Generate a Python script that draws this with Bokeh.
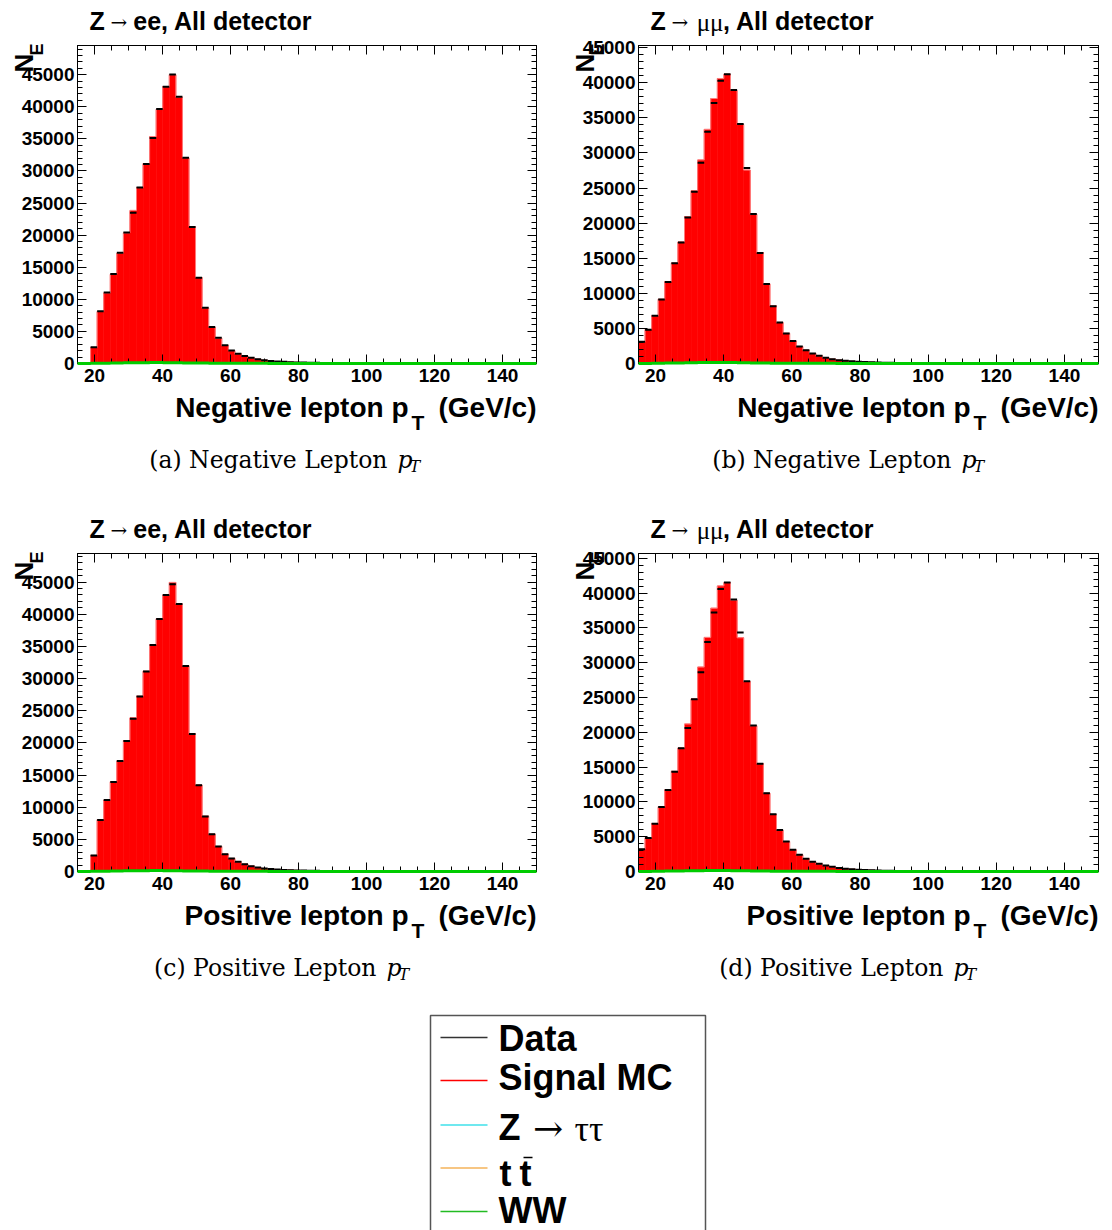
import math
from bokeh.plotting import figure
from bokeh.models import Range1d, LinearAxis, SingleIntervalTicker, CustomJSTickFormatter, BasicTickFormatter
from bokeh.layouts import column, row
from bokeh.embed import file_html
from bokeh.resources import INLINE
from bokeh.core.properties import value

# ---------------- data ----------------
X_MIN, X_MAX, N_BINS = 15.0, 150.0, 70

ee_neg_data = [0, 0, 2550, 8150, 11050, 13950, 17250, 20400, 23480, 27420, 31100, 35150, 39650, 43130,
               45050, 41580, 32040, 21250, 13350, 8700, 5700, 4000, 2830, 2040, 1530, 1160, 880, 670, 500,
               390, 310, 255, 210, 175, 148, 127, 110, 96, 84, 74, 65, 58, 52, 46, 41, 37, 33, 30, 27, 24,
               22, 20, 18, 16, 15, 14, 13, 12, 11, 10, 9, 9, 8, 8, 7, 7, 6, 6, 5, 5]
ee_neg_mc = [0, 0, 2500, 8100, 11000, 13900, 17200, 20350, 23850, 27400, 31150, 35350, 39600, 43150,
             45000, 41500, 32050, 21300, 13400, 8650, 5650, 3950, 2800, 2000, 1500, 1150, 870, 660, 500,
             385, 305, 250, 210, 175, 150, 128, 110, 97, 85, 75, 66, 58, 52, 46, 41, 37, 33, 30, 27, 24,
             22, 20, 18, 16, 15, 14, 13, 12, 11, 10, 9, 9, 8, 8, 7, 7, 6, 6, 5, 5]

mm_neg_data = [3090, 4820, 6810, 9100, 11610, 14270, 17240, 20800, 24470, 28580, 33010, 37120, 40290, 41220,
               38970, 34110, 27860, 21300, 15740, 11330, 8170, 5840, 4270, 3200, 2420, 1900, 1425, 1090, 810,
               620, 475, 380, 305, 250, 205, 170, 142, 120, 102, 88, 76, 66, 58, 51, 45, 40, 36, 32, 29, 26,
               23, 21, 19, 17, 16, 15, 14, 13, 12, 11, 10, 9, 9, 8, 8, 7, 7, 6, 6, 5]
mm_neg_mc = [3100, 4850, 6800, 9150, 11650, 14300, 17300, 20900, 24600, 29000, 33350, 37750, 40600, 41200,
             38900, 34050, 27550, 21250, 15800, 11350, 8200, 5850, 4300, 3200, 2420, 1900, 1420, 1090, 810,
             620, 475, 380, 305, 250, 205, 170, 142, 120, 102, 88, 76, 66, 58, 51, 45, 40, 36, 32, 29, 26,
             23, 21, 19, 17, 16, 15, 14, 13, 12, 11, 10, 9, 9, 8, 8, 7, 7, 6, 6, 5]

ee_pos_data = [0, 0, 2480, 8020, 11120, 13920, 17180, 20280, 23750, 27210, 31090, 35230, 39270, 42990,
               44650, 41590, 31970, 21370, 13400, 8540, 5790, 3880, 2690, 2020, 1500, 1140, 830, 620, 470,
               370, 300, 245, 205, 172, 145, 125, 108, 94, 83, 73, 64, 57, 51, 45, 40, 36, 33, 30, 27, 24,
               22, 20, 18, 16, 15, 14, 13, 12, 11, 10, 9, 9, 8, 8, 7, 7, 6, 6, 5, 5]
ee_pos_mc = [0, 0, 2500, 8050, 11100, 13950, 17200, 20350, 23900, 27250, 31150, 35250, 39300, 43000,
             44950, 41600, 32000, 21400, 13450, 8600, 5800, 3900, 2700, 2030, 1500, 1140, 830, 620, 470,
             370, 300, 245, 205, 172, 145, 125, 108, 94, 83, 73, 64, 57, 51, 45, 40, 36, 33, 30, 27, 24,
             22, 20, 18, 16, 15, 14, 13, 12, 11, 10, 9, 9, 8, 8, 7, 7, 6, 6, 5, 5]

mm_pos_data = [3200, 4830, 6880, 9270, 11710, 14330, 17730, 20640, 24750, 28620, 32970, 37220, 40610, 41520,
               39080, 34350, 27330, 20970, 15480, 11230, 8220, 5970, 4300, 3110, 2390, 1820, 1390, 1100, 860,
               670, 510, 400, 315, 255, 210, 172, 144, 121, 103, 89, 77, 67, 59, 52, 46, 41, 36, 32, 29, 26,
               23, 21, 19, 17, 16, 15, 14, 13, 12, 11, 10, 9, 9, 8, 8, 7, 7, 6, 6, 5]
mm_pos_mc = [3200, 4850, 6900, 9300, 11750, 14400, 17750, 21200, 24800, 29380, 33640, 37840, 41040, 41520,
             39000, 33590, 27300, 20950, 15500, 11250, 8200, 5950, 4300, 3120, 2400, 1830, 1390, 1100, 860,
             670, 510, 400, 315, 255, 210, 172, 144, 121, 103, 89, 77, 67, 59, 52, 46, 41, 36, 32, 29, 26,
             23, 21, 19, 17, 16, 15, 14, 13, 12, 11, 10, 9, 9, 8, 8, 7, 7, 6, 6, 5]

# small backgrounds (Z->tautau + ttbar + WW stacked), barely above zero
bkg_stack = [10, 15, 25, 40, 55, 70, 85, 100, 115, 125, 135, 140, 140, 135, 125, 110, 95, 80, 70, 60,
             52, 45, 40, 35, 31, 28, 25, 22, 20, 18, 16, 15, 14, 13, 12, 11, 10, 10, 9, 9,
             8, 8, 7, 7, 7, 6, 6, 6, 5, 5, 5, 5, 4, 4, 4, 4, 4, 3, 3, 3,
             3, 3, 3, 3, 2, 2, 2, 2, 2, 2]

y_maxima = [49550, 45300, 49450, 45700]
captions = ["(a) Negative Lepton", "(b) Negative Lepton", "(c) Positive Lepton", "(d) Positive Lepton"]
x_words = ["Negative", "Negative", "Positive", "Positive"]
legend_names = ["Data", "Signal MC", "Z", "t", "WW"]
legend_colors = ["#333333", "#ff0000", "#3fe0ea", "#f5b35a", "#22bb22"]

bin_width = (X_MAX - X_MIN) / N_BINS
bin_left = [X_MIN + i * bin_width for i in range(N_BINS)]
bin_right = [b + bin_width for b in bin_left]
edges = bin_left + [X_MAX]

SANS = "Liberation Sans"
SERIF = "Liberation Serif"
ARROW = "DejaVu Serif"
CAPSERIF = "DejaVu Serif"


def make_panel(data, mc, ymax, L, W, channel, xword):
    FT, FH, H, PW = 45, 318, 440, 556
    p = figure(width=PW, height=H, x_range=Range1d(X_MIN, X_MAX), y_range=Range1d(0, ymax),
               output_backend="svg", toolbar_location=None,
               min_border_left=L, min_border_right=PW - L - W, min_border_top=FT,
               min_border_bottom=H - FT - FH,
               outline_line_color="black", outline_line_width=1,
               background_fill_color="white", border_fill_color="white")
    p.grid.visible = False

    p.quad(left=bin_left, right=bin_right, bottom=0, top=mc, fill_color="#ff0000",
           line_color="#ff0000", line_width=0.6)
    p.step(x=edges, y=mc + [mc[-1]], mode="after", line_color="#ff7a7a", line_width=1)
    p.segment(x0=bin_left, x1=bin_right, y0=data, y1=data, line_color="black", line_width=2)
    p.step(x=edges, y=bkg_stack + [bkg_stack[-1]], mode="after", line_color="#00cc00", line_width=3,
           level="annotation")

    xt = SingleIntervalTicker(interval=20, num_minor_ticks=4)
    yt = SingleIntervalTicker(interval=5000, num_minor_ticks=5)
    blank = CustomJSTickFormatter(code="return ''")

    xa = p.xaxis[0]
    xa.ticker = xt
    ya = p.yaxis[0]
    ya.ticker = yt
    ya.formatter = BasicTickFormatter(use_scientific=False)
    for ax in (xa, ya):
        ax.major_tick_in = 9
        ax.major_tick_out = 0
        ax.minor_tick_in = 5
        ax.minor_tick_out = 0
        ax.axis_line_color = "black"
        ax.major_label_text_font = SANS
        ax.major_label_text_font_style = "bold"
        ax.major_label_text_font_size = "19px"
        ax.major_label_text_color = "black"
    xa.major_label_standoff = 5
    ya.major_label_standoff = 3

    top = LinearAxis(ticker=xt, formatter=blank, major_tick_in=9, major_tick_out=0,
                     minor_tick_in=5, minor_tick_out=0, major_label_standoff=0)
    right = LinearAxis(ticker=yt, formatter=blank, major_tick_in=9, major_tick_out=0,
                       minor_tick_in=5, minor_tick_out=0, major_label_standoff=0)
    p.add_layout(top, "above")
    p.add_layout(right, "right")

    def X(px):
        return X_MIN + (px - L) * (X_MAX - X_MIN) / W

    def Y(py):
        return ymax * (FT + FH - py) / FH

    def put(px, py, text, size, font=SANS, style="bold", align="left", angle=0.0):
        # py is the vertical centre of the text, in panel pixels from the top
        p.text(x=[X(px)], y=[Y(py)], text=[text], angle=angle, text_font=value(font),
               text_font_size=value(f"{size}px"), text_font_style=value(style),
               text_align=value(align), text_baseline=value("middle"), text_color="black",
               level="annotation")

    # title
    ty = 20.5
    if channel == "ee":
        put(89, ty, "Z", 25)
        put(118.5, ty + 1, "\u2192", 20, ARROW, "normal", "center")
        put(312, ty, "ee, All detector", 25, align="right")
    else:
        put(94, ty, "Z", 25)
        put(123.5, ty + 1, "\u2192", 20, ARROW, "normal", "center")
        put(167, ty + 1, "\u03bc\u03bc", 25, SERIF, "normal", "right")
        put(318, ty, ", All detector", 25, align="right")

    # y title N_E (rotated)
    put(L - 54, 72, "N", 26, angle=math.pi / 2)
    put(L - 41, 55, "E", 18, angle=math.pi / 2)

    # x title
    R = L + W
    put(R - 128, 407, f"{xword} lepton p", 28, align="right")
    put(R - 125, 422, "T", 21)
    put(R, 407, "(GeV/c)", 28, align="right")
    return p


pa = make_panel(ee_neg_data, ee_neg_mc, y_maxima[0], 77, 459, "ee", x_words[0])
pb = make_panel(mm_neg_data, mm_neg_mc, y_maxima[1], 82, 460, "mm", x_words[1])
pc = make_panel(ee_pos_data, ee_pos_mc, y_maxima[2], 77, 459, "ee", x_words[2])
pd = make_panel(mm_pos_data, mm_pos_mc, y_maxima[3], 82, 460, "mm", x_words[3])


def text_fig(y0, height):
    f = figure(width=1112, height=height, x_range=Range1d(0, 1112), y_range=Range1d(y0 + height, y0),
               x_axis_type=None, y_axis_type=None, output_backend="svg", toolbar_location=None,
               min_border=0, outline_line_color=None, background_fill_color="white",
               border_fill_color="white")
    f.grid.visible = False
    return f


def caption(f, end_x, mid_y, text):
    f.text(x=[end_x], y=[mid_y], text=[text], text_font=value(CAPSERIF), text_font_size=value("23.5px"),
           text_align=value("right"), text_baseline=value("middle"), text_color="black")
    f.text(x=[end_x + 10], y=[mid_y], text=["p"], text_font=value(CAPSERIF), text_font_size=value("23.5px"),
           text_font_style=value("italic"), text_align=value("left"), text_baseline=value("middle"),
           text_color="black")
    f.text(x=[end_x + 22], y=[mid_y + 6], text=["T"], text_font=value(CAPSERIF),
           text_font_size=value("16px"), text_font_style=value("italic"), text_align=value("left"),
           text_baseline=value("middle"), text_color="black")


cap1 = text_fig(440, 68)
caption(cap1, 387, 459.5, captions[0])
caption(cap1, 951, 459.5, captions[1])

bot = text_fig(948, 282)
caption(bot, 376, 967.5, captions[2])
caption(bot, 943, 967.5, captions[3])

# legend box
bot.quad(left=430, right=705, top=1015, bottom=1240, fill_color="white", line_color="#555555", line_width=1.5)
leg_y = [1037, 1080, 1124.5, 1167.5, 1211]
bot.segment(x0=[440] * 5, x1=[487] * 5, y0=leg_y, y1=leg_y, line_color=legend_colors, line_width=1.5)
mid = [1037.5, 1076.5, 1127, 1173, 1210]
bold = dict(text_font=value(SANS), text_font_size=value("36px"), text_font_style=value("bold"),
            text_baseline=value("middle"), text_color="black")
bot.text(x=[498, 498, 498, 499, 498], y=mid, text=legend_names, text_align=value("left"), **bold)
bot.text(x=[519], y=[mid[3]], text=["t"], text_align=value("left"), **bold)
bot.segment(x0=[523], x1=[532], y0=[1157], y1=[1157], line_color="black", line_width=1.5)
bot.text(x=[547.5], y=[mid[2] + 1], text=["\u2192"], text_align=value("center"),
         text_font=value(ARROW), text_font_size=value("36px"), text_baseline=value("middle"),
         text_color="black")
bot.text(x=[574], y=[mid[2] + 1], text=["\u03c4\u03c4"], text_align=value("left"),
         text_font=value(SERIF), text_font_size=value("36px"), text_baseline=value("middle"),
         text_color="black")

layout = column(row(pa, pb), cap1, row(pc, pd), bot)
open("out.html", "w").write(file_html(layout, INLINE))
